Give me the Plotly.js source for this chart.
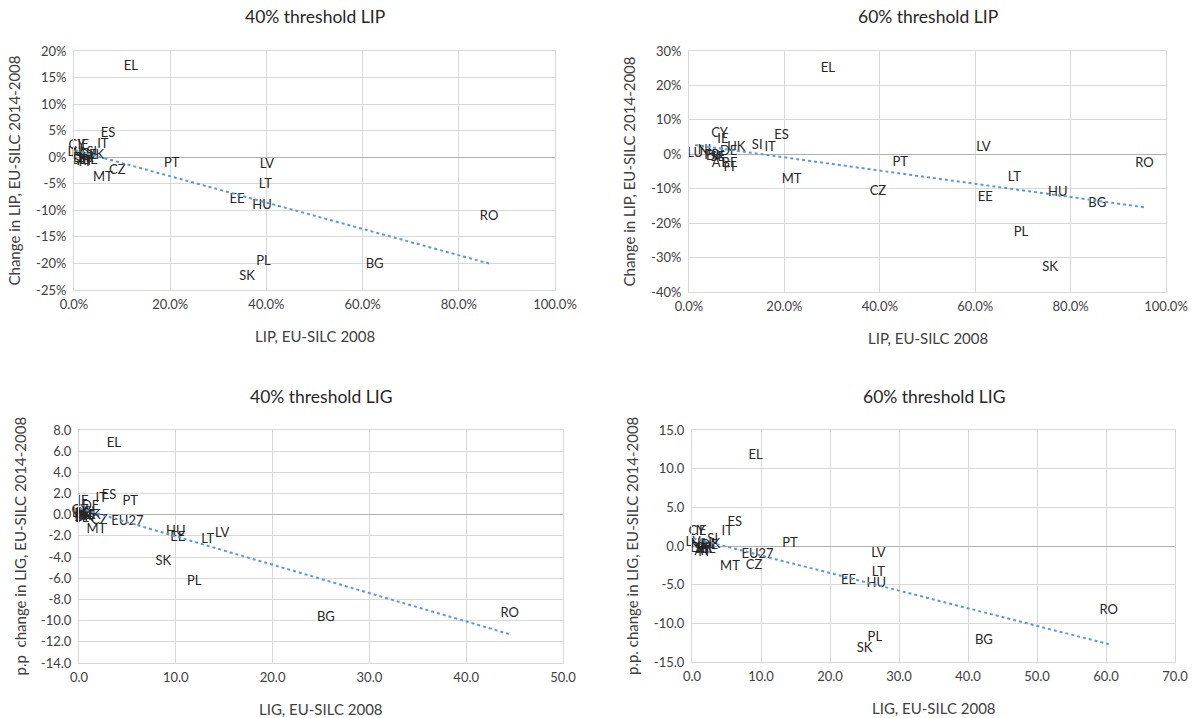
<!DOCTYPE html>
<html>
<head>
<meta charset="utf-8">
<script src="https://cdn.plot.ly/plotly-3.0.1.min.js"></script>
<style>
  html, body { margin: 0; padding: 0; background: #ffffff; }
  #chart { width: 1192px; height: 718px; }
</style>
</head>
<body>
<div id="chart"></div>
<script>
// ---- 40% threshold, LIP (%): level in 2008 vs change 2014-2008 ----
const lip40Countries = ['EL','ES','IT','CY','IE','SI','LU','NL','DE','UK','DK','FR','SE','AT','BE','FI','PT','CZ','MT','LV','LT','EE','HU','RO','PL','BG','SK'];
const lip40X = [11.8, 7.1, 6.0, 0.6, 1.9, 3.7, 0.3, 1.2, 2.9, 4.4, 1.7, 2.5, 1.2, 2.3, 3.3, 2.1, 20.3, 9.0, 6.0, 40.1, 39.8, 33.9, 39.1, 86.3, 39.4, 62.5, 36.0];
const lip40Y = [17.0, 4.4, 2.4, 2.1, 2.1, 0.9, 0.8, 0.6, 0.2, 0.2, -0.2, -0.2, -0.6, -0.8, -0.6, -1.1, -1.2, -2.5, -3.9, -1.5, -5.2, -8.1, -9.1, -11.2, -19.7, -20.3, -22.5];

// ---- 60% threshold, LIP (%) ----
const lip60Countries = ['EL','ES','CY','IE','UK','SI','IT','LU','NL','DE','DK','FR','SE','BE','AT','FI','PT','LV','MT','CZ','LT','EE','HU','BG','RO','PL','SK'];
const lip60X = [29.1, 19.4, 6.4, 7.1, 9.9, 14.3, 17.0, 1.3, 3.6, 8.3, 5.5, 4.8, 6.0, 8.5, 6.4, 8.4, 44.3, 61.7, 21.5, 39.6, 68.2, 62.1, 77.3, 85.6, 95.5, 69.6, 75.7];
const lip60Y = [24.9, 5.4, 6.1, 4.3, 2.0, 2.5, 2.0, 0.2, 0.9, 0.6, -0.6, -0.3, -1.0, -2.7, -2.7, -4.0, -2.5, 2.0, -7.4, -11.0, -6.9, -12.7, -11.3, -14.4, -2.7, -22.8, -33.0];

// ---- 40% threshold, LIG (p.p.) ----
const lig40Countries = ['EL','ES','IT','IE','PT','DE','CY','LU','FR','NL','FI','AT','BE','SE','DK','UK','SI','CZ','EU27','MT','HU','EE','LT','LV','SK','PL','BG','RO'];
const lig40X = [3.6, 3.1, 2.3, 0.4, 5.3, 1.2, 0.1, 0.1, 0.3, 0.5, 0.2, 0.7, 0.9, 0.3, 0.5, 1.3, 1.1, 2.1, 5.0, 1.8, 10.0, 10.2, 13.3, 14.8, 8.7, 11.9, 25.5, 44.5];
const lig40Y = [6.7, 1.75, 1.5, 1.2, 1.2, 0.8, 0.4, 0.1, 0.0, 0.1, -0.2, -0.2, -0.1, -0.4, -0.3, -0.1, 0.2, -0.6, -0.65, -1.4, -1.65, -2.15, -2.35, -1.8, -4.4, -6.35, -9.75, -9.35];

// ---- 60% threshold, LIG (p.p.) ----
const lig60Countries = ['EL','ES','IT','CY','IE','SI','LU','UK','AT','BE','FI','DK','FR','DE','NL','SE','PT','EU27','CZ','MT','LV','LT','EE','HU','RO','PL','SK','BG'];
const lig60X = [9.2, 6.2, 5.1, 0.7, 1.3, 3.0, 0.2, 2.8, 1.5, 2.3, 1.7, 1.1, 1.8, 2.5, 1.0, 1.4, 14.2, 9.5, 9.0, 5.5, 27.0, 27.0, 22.7, 26.7, 60.4, 26.5, 25.0, 42.3];
const lig60Y = [11.7, 3.0, 1.8, 1.9, 1.8, 0.85, 0.4, 0.2, -0.8, -0.5, -0.9, -0.3, -0.4, 0.0, 0.1, -0.5, 0.3, -1.15, -2.6, -2.65, -0.95, -3.4, -4.5, -4.9, -8.4, -11.8, -13.3, -12.3];

// ---- axis ticks ----
const lipXTicks = [0, 20, 40, 60, 80, 100];
const lip40YTicks = [-25, -20, -15, -10, -5, 0, 5, 10, 15, 20];
const lip60YTicks = [-40, -30, -20, -10, 0, 10, 20, 30];
const lig40XTicks = [0, 10, 20, 30, 40, 50];
const lig40YTicks = [-14, -12, -10, -8, -6, -4, -2, 0, 2, 4, 6, 8];
const lig60XTicks = [0, 10, 20, 30, 40, 50, 60, 70];
const lig60YTicks = [-15, -10, -5, 0, 5, 10, 15];

// ---- titles ----
const panelTitles = ['40% threshold LIP', '60% threshold LIP', '40% threshold LIG', '60% threshold LIG'];
const xTitles = ['LIP, EU-SILC 2008', 'LIP, EU-SILC 2008', 'LIG, EU-SILC 2008', 'LIG, EU-SILC 2008'];
const yTitles = ['Change in LIP, EU-SILC 2014-2008', 'Change in LIP, EU-SILC 2014-2008',
                 'p.p  change in LIG, EU-SILC 2014-2008', 'p.p. change in LIG, EU-SILC 2014-2008'];

const W = 1192, H = 718;
const FONT = 'Lato, "Open Sans", sans-serif';

// least-squares linear trend drawn from the smallest to the largest x
function trend(xs, ys) {
  const n = xs.length;
  const mx = xs.reduce((a, b) => a + b, 0) / n;
  const my = ys.reduce((a, b) => a + b, 0) / n;
  let sxy = 0, sxx = 0;
  for (let i = 0; i < n; i++) { sxy += (xs[i] - mx) * (ys[i] - my); sxx += (xs[i] - mx) ** 2; }
  const b = sxy / sxx, a = my - b * mx;
  const x0 = Math.min(...xs), x1 = Math.max(...xs);
  return { x: [x0, x1], y: [a + b * x0, a + b * x1] };
}

const panels = [
  { names: lip40Countries, x: lip40X, y: lip40Y, xt: lipXTicks, yt: lip40YTicks,
    xfmt: v => v.toFixed(1) + '%', yfmt: v => v + '%', px: [74, 555], py: [51, 290] },
  { names: lip60Countries, x: lip60X, y: lip60Y, xt: lipXTicks, yt: lip60YTicks,
    xfmt: v => v.toFixed(1) + '%', yfmt: v => v + '%', px: [689, 1166], py: [51, 292] },
  { names: lig40Countries, x: lig40X, y: lig40Y, xt: lig40XTicks, yt: lig40YTicks,
    xfmt: v => v.toFixed(1), yfmt: v => v.toFixed(1), px: [79, 563], py: [430, 663] },
  { names: lig60Countries, x: lig60X, y: lig60Y, xt: lig60XTicks, yt: lig60YTicks,
    xfmt: v => v.toFixed(1), yfmt: v => v.toFixed(1), px: [692, 1175], py: [430, 662] }
];

const traces = [];
const layout = {
  width: W, height: H,
  margin: { l: 0, r: 0, t: 0, b: 0 },
  paper_bgcolor: '#ffffff', plot_bgcolor: '#ffffff',
  showlegend: false,
  font: { family: FONT, color: '#404040' },
  annotations: []
};

panels.forEach((p, i) => {
  const k = i === 0 ? '' : String(i + 1);
  const xa = 'x' + k, ya = 'y' + k;

  // country labels
  traces.push({
    type: 'scatter', mode: 'text', xaxis: xa, yaxis: ya,
    x: p.x, y: p.y, text: p.names,
    textposition: 'middle center', cliponaxis: false,
    textfont: { family: FONT, size: 13, color: '#262626' },
    hoverinfo: 'text'
  });

  // linear trend
  const t = trend(p.x, p.y);
  traces.push({
    type: 'scatter', mode: 'lines', xaxis: xa, yaxis: ya,
    x: t.x, y: t.y,
    line: { color: '#5b9bd5', width: 2, dash: 'dot' },
    hoverinfo: 'skip'
  });

  const xr = [p.xt[0], p.xt[p.xt.length - 1]];
  const yr = [p.yt[0], p.yt[p.yt.length - 1]];

  layout['xaxis' + k] = {
    domain: [p.px[0] / W, p.px[1] / W], anchor: ya, range: xr,
    tickmode: 'array', tickvals: p.xt, ticktext: p.xt.map(p.xfmt),
    showgrid: true, gridcolor: '#d9d9d9', gridwidth: 1,
    zeroline: false, showline: true, linecolor: '#d9d9d9', linewidth: 1, mirror: true,
    ticks: '', ticklabeloverflow: 'allow', ticklabelstandoff: 2,
    tickfont: { family: FONT, size: 13, color: '#404040' },
    fixedrange: true
  };
  layout['yaxis' + k] = {
    domain: [1 - p.py[1] / H, 1 - p.py[0] / H], anchor: xa, range: yr,
    tickmode: 'array', tickvals: p.yt, ticktext: p.yt.map(p.yfmt),
    showgrid: true, gridcolor: '#d9d9d9', gridwidth: 1,
    zeroline: true, zerolinecolor: '#b0b0b0', zerolinewidth: 1,
    showline: true, linecolor: '#d9d9d9', linewidth: 1, mirror: true,
    ticks: '', ticklabeloverflow: 'allow', ticklabelstandoff: 4,
    tickfont: { family: FONT, size: 13, color: '#404040' },
    fixedrange: true
  };

  const cx = (p.px[0] + p.px[1]) / 2;
  // panel title
  layout.annotations.push({
    xref: 'paper', yref: 'paper', x: cx / W, y: 1 - (p.py[0] - 34) / H,
    text: panelTitles[i], showarrow: false, xanchor: 'center', yanchor: 'middle',
    font: { family: FONT, size: 17.5, color: '#262626' }
  });
  // x axis title
  layout.annotations.push({
    xref: 'paper', yref: 'paper', x: cx / W, y: 1 - (p.py[1] + 46) / H,
    text: xTitles[i], showarrow: false, xanchor: 'center', yanchor: 'middle',
    font: { family: FONT, size: 15, color: '#404040' }
  });
  // y axis title
  layout.annotations.push({
    xref: 'paper', yref: 'paper', x: (p.px[0] - 60) / W, y: 1 - ((p.py[0] + p.py[1]) / 2) / H,
    text: yTitles[i], showarrow: false, textangle: -90, xanchor: 'center', yanchor: 'middle',
    font: { family: FONT, size: 15, color: '#404040' }
  });
});

Plotly.newPlot('chart', traces, layout, { staticPlot: true, displayModeBar: false });
</script>
</body>
</html>
